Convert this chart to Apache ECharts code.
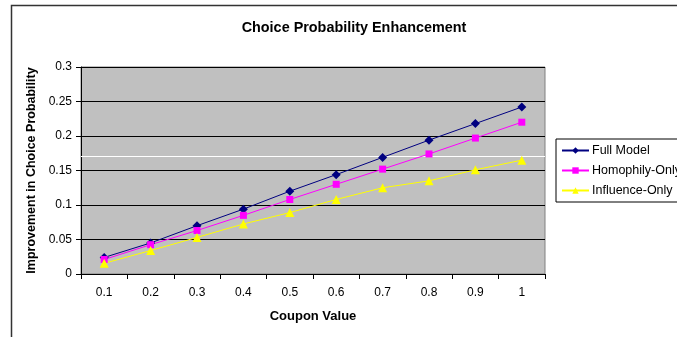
<!DOCTYPE html>
<html>
<head>
<meta charset="utf-8">
<script src="https://cdn.jsdelivr.net/npm/echarts@6/dist/echarts.min.js"></script>
<style>
  html, body { margin: 0; padding: 0; background: #fff; }
  #chart { width: 677px; height: 337px; }
</style>
</head>
<body>
<div id="chart"></div>
<script>
// Coupon values along the horizontal axis
var couponValues = ['0.1', '0.2', '0.3', '0.4', '0.5', '0.6', '0.7', '0.8', '0.9', '1'];

// Improvement in choice probability per model variant
var fullModel      = [0.024, 0.045, 0.070, 0.094, 0.120, 0.144, 0.169, 0.194, 0.218, 0.242];
var homophilyOnly  = [0.021, 0.0425, 0.063, 0.085, 0.108, 0.130, 0.152, 0.174, 0.197, 0.220];
var influenceOnly  = [0.0155, 0.034, 0.053, 0.0725, 0.089, 0.108, 0.125, 0.135, 0.151, 0.165];

// Highlight rule across the plot
var highlightLevel = 0.174;

var FONT = '"Liberation Sans", Arial, sans-serif';

var chart = echarts.init(document.getElementById('chart'), null, { renderer: 'canvas' });

chart.setOption({
  animation: false,
  backgroundColor: '#ffffff',
  textStyle: { fontFamily: FONT },
  graphic: [{
    type: 'rect',
    z: -10,
    shape: { x: 11.5, y: 5.5, width: 720, height: 400 },
    style: { fill: 'none', stroke: '#333333', lineWidth: 1.5 },
    silent: true
  }],
  title: {
    text: 'Choice Probability Enhancement',
    left: 349,
    textAlign: 'center',
    top: 16,
    textStyle: { fontFamily: FONT, fontSize: 14.4, fontWeight: 'bold', color: '#000' }
  },
  legend: {
    orient: 'vertical',
    left: 556,
    top: 139,
    itemWidth: 27,
    itemHeight: 8,
    itemGap: 7,
    padding: [5, 6, 5, 5],
    borderColor: '#000',
    borderWidth: 1,
    backgroundColor: '#fff',
    borderRadius: 0,
    textStyle: { fontFamily: FONT, fontSize: 12.5, color: '#000', padding: [0, 0, 0, -2] },
    data: ['Full Model', 'Homophily-Only', 'Influence-Only']
  },
  grid: {
    left: 81, right: 132, top: 67, bottom: 63,
    show: true,
    backgroundColor: '#C0C0C0',
    borderColor: '#808080',
    borderWidth: 1
  },
  xAxis: {
    type: 'category',
    data: couponValues,
    boundaryGap: true,
    name: 'Coupon Value',
    nameLocation: 'middle',
    nameGap: 36,
    nameTextStyle: { fontFamily: FONT, fontSize: 13, fontWeight: 'bold', color: '#000' },
    axisLine: { lineStyle: { color: '#000', width: 1 } },
    axisTick: { show: true, length: 5, lineStyle: { color: '#000' } },
    axisLabel: { fontFamily: FONT, fontSize: 12, color: '#000', margin: 13 },
    splitLine: { show: false }
  },
  yAxis: {
    type: 'value',
    min: 0,
    max: 0.3,
    interval: 0.05,
    name: 'Improvement in Choice Probability',
    nameLocation: 'middle',
    nameGap: 43,
    nameTextStyle: { fontFamily: FONT, fontSize: 12.5, fontWeight: 'bold', color: '#000' },
    axisLine: { show: true, lineStyle: { color: '#000', width: 1 } },
    axisTick: { show: true, length: 5, lineStyle: { color: '#000' } },
    axisLabel: { fontFamily: FONT, fontSize: 12, color: '#000', margin: 9 },
    splitLine: { show: true, lineStyle: { color: '#000', width: 1 } }
  },
  series: [
    {
      name: 'Full Model',
      type: 'line',
      data: fullModel,
      symbol: 'diamond',
      symbolSize: 9,
      lineStyle: { color: '#000080', width: 1 },
      itemStyle: { color: '#000080' },
      markLine: {
        silent: true,
        symbol: ['none', 'none'],
        label: { show: false },
        lineStyle: { color: '#ffffff', type: 'solid', width: 1 },
        data: [{ yAxis: highlightLevel }],
        z: 1
      }
    },
    {
      name: 'Homophily-Only',
      type: 'line',
      data: homophilyOnly,
      symbol: 'rect',
      symbolSize: 7,
      lineStyle: { color: '#FF00FF', width: 1 },
      itemStyle: { color: '#FF00FF' }
    },
    {
      name: 'Influence-Only',
      type: 'line',
      data: influenceOnly,
      symbol: 'triangle',
      symbolSize: 9,
      lineStyle: { color: '#FFFF00', width: 1 },
      itemStyle: { color: '#FFFF00' }
    }
  ]
});
</script>
</body>
</html>
